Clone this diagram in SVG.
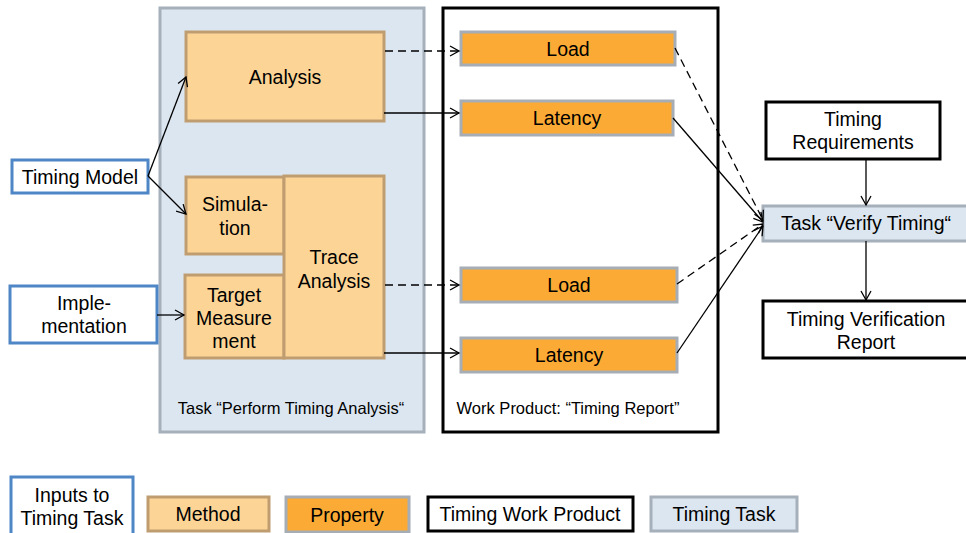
<svg xmlns="http://www.w3.org/2000/svg" width="966" height="533" viewBox="0 0 966 533">
<defs>
<style>
text{font-family:"Liberation Sans",Arial,sans-serif;fill:#000;text-anchor:middle}
.t{font-size:19.5px}
.s{font-size:16.5px}
.method{fill:#fcd596;stroke:#c09d70;stroke-width:3}
.prop{fill:#fbab35;stroke:#a6adb5;stroke-width:3}
.input{fill:#fff;stroke:#4f86c6;stroke-width:3}
.wp{fill:#fff;stroke:#000;stroke-width:3}
.task{fill:#dce6f1;stroke:#a6b0bb;stroke-width:3}
.c{fill:none;stroke:#000;stroke-width:1.3}
.d{stroke-dasharray:8 5}
</style>
<marker id="a" markerWidth="12" markerHeight="12" refX="10" refY="6" orient="auto" markerUnits="userSpaceOnUse">
<path d="M1,1 L10,6 L1,11" fill="none" stroke="#000" stroke-width="1.3"/>
</marker>
</defs>
<g id="task-perform">
<rect class="task" x="160" y="8" width="264" height="424"/>
<text class="s" x="291" y="414">Task “Perform Timing Analysis“</text>
</g>
<g id="work-product">
<rect class="wp" x="443" y="8" width="275" height="424"/>
<text class="s" x="568" y="414">Work Product: “Timing Report”</text>
</g>
<g id="analysis">
<rect class="method" x="186" y="32" width="198" height="89"/>
<text class="t" x="285" y="84">Analysis</text>
</g>
<g id="simulation">
<rect class="method" x="186" y="177" width="98" height="77"/>
<text class="t" x="235" y="211">Simula-</text>
<text class="t" x="235" y="235">tion</text>
</g>
<g id="target">
<rect class="method" x="185" y="275" width="99" height="83"/>
<text class="t" x="234" y="302">Target</text>
<text class="t" x="234" y="325">Measure</text>
<text class="t" x="234" y="348">ment</text>
</g>
<g id="trace">
<rect class="method" x="284" y="176" width="100" height="182"/>
<text class="t" x="334" y="264">Trace</text>
<text class="t" x="334" y="288">Analysis</text>
</g>
<g id="timing-model">
<rect class="input" x="12" y="160" width="136" height="33"/>
<text class="t" x="80" y="184">Timing Model</text>
</g>
<g id="implementation">
<rect class="input" x="10" y="286" width="147" height="57"/>
<text class="t" x="84" y="310">Imple-</text>
<text class="t" x="84" y="333">mentation</text>
</g>
<g id="load1">
<rect class="prop" x="461" y="32" width="214" height="33"/>
<text class="t" x="568" y="56">Load</text>
</g>
<g id="latency1">
<rect class="prop" x="461" y="101" width="212" height="34"/>
<text class="t" x="567" y="125">Latency</text>
</g>
<g id="load2">
<rect class="prop" x="461" y="268" width="216" height="34"/>
<text class="t" x="569" y="292">Load</text>
</g>
<g id="latency2">
<rect class="prop" x="461" y="338" width="216" height="34"/>
<text class="t" x="569" y="362">Latency</text>
</g>
<g id="timing-req">
<rect class="wp" x="766" y="102" width="174" height="57"/>
<text class="t" x="853" y="126">Timing</text>
<text class="t" x="853" y="149">Requirements</text>
</g>
<g id="verify">
<rect class="task" x="763" y="206" width="210" height="35"/>
<text class="t" x="866" y="230">Task “Verify Timing“</text>
</g>
<g id="report">
<rect class="wp" x="763" y="301" width="210" height="57"/>
<text class="t" x="866" y="326">Timing Verification</text>
<text class="t" x="866" y="349">Report</text>
</g>
<g id="connectors">
<path class="c" marker-end="url(#a)" d="M148,176 L186,77"/>
<path class="c" marker-end="url(#a)" d="M148,176 L186,214"/>
<path class="c" marker-end="url(#a)" d="M157,315 L184,315"/>
<path class="c d" marker-end="url(#a)" d="M385,51 L459,51"/>
<path class="c" marker-end="url(#a)" d="M384,113 L459,113"/>
<path class="c d" marker-end="url(#a)" d="M385,285 L459,285"/>
<path class="c" marker-end="url(#a)" d="M384,353 L459,353"/>
<path class="c d" marker-end="url(#a)" d="M675,48 L763,220"/>
<path class="c" marker-end="url(#a)" d="M673,118 L763,222"/>
<path class="c d" marker-end="url(#a)" d="M677,284 L763,224"/>
<path class="c" marker-end="url(#a)" d="M677,353 L763,226"/>
<path class="c" marker-end="url(#a)" d="M866,159 L866,205"/>
<path class="c" marker-end="url(#a)" d="M866,241 L866,300"/>
</g>
<g id="legend-inputs">
<rect class="input" x="11" y="477" width="122" height="60"/>
<text class="t" x="72" y="502">Inputs to</text>
<text class="t" x="72" y="525">Timing Task</text>
</g>
<g id="legend-method">
<rect class="method" x="148" y="497" width="121" height="34"/>
<text class="t" x="208" y="521">Method</text>
</g>
<g id="legend-property">
<rect class="prop" x="286" y="497" width="123" height="35"/>
<text class="t" x="347" y="522">Property</text>
</g>
<g id="legend-wp">
<rect class="wp" x="428" y="497" width="205" height="34"/>
<text class="t" x="530" y="521">Timing Work Product</text>
</g>
<g id="legend-task">
<rect class="task" x="651" y="497" width="146" height="34"/>
<text class="t" x="724" y="521">Timing Task</text>
</g>
</svg>
